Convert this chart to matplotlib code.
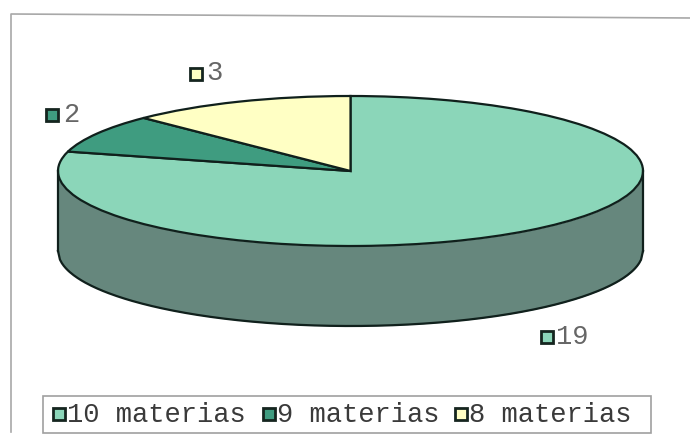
import numpy as np
import matplotlib
matplotlib.use('Agg')
import matplotlib.pyplot as plt
from matplotlib.patches import Rectangle

# Datos del grafico
categorias = ['10 materias', '9 materias', '8 materias']
valores = [19, 2, 3]
colores = ['#8bd6b9', '#3f9c80', '#ffffc4']
color_lado = '#66877d'

W, H = 690, 448
cx, cy, rx, ry = 350.5, 171, 292.5, 75
prof = 80 / ry

fig = plt.figure(figsize=(W / 100, H / 100), dpi=100)

# Capa en pixeles para marco, leyenda y etiquetas
fondo = fig.add_axes([0, 0, 1, 1])
fondo.set_xlim(0, W)
fondo.set_ylim(H, 0)
fondo.axis('off')

# El circulo unidad del pie queda como elipse
ax = fig.add_axes([0, 0, 1, 1])
ax.patch.set_alpha(0)
ax.pie(valores, colors=colores, startangle=90, counterclock=False, radius=1,
       wedgeprops={'edgecolor': '#10201c', 'linewidth': 1.6})
ax.set_aspect('auto')
ax.set_xlim(-cx / rx, (W - cx) / rx)
ax.set_ylim((cy - H) / ry, cy / ry)

# Lado del cilindro
x = np.linspace(-1, 1, 300)
borde = -np.sqrt(1 - x ** 2)
ax.fill_between(x, borde, borde - prof, color=color_lado, lw=0, zorder=0.5)
ax.plot(x, borde - prof, color='#10201c', lw=1.6, zorder=3)
ax.plot([-1, -1], [0, -prof], color='#10201c', lw=1.6, zorder=3)
ax.plot([1, 1], [0, -prof], color='#10201c', lw=1.6, zorder=3)

# Marco exterior
fondo.plot([11, 11, 690], [432, 14, 18], color='#a8a8a8', lw=1.2)
fondo.add_patch(Rectangle((43, 396), 608, 37, fc='white', ec='#a0a0a0', lw=1.2))


def cuadro(x0, y0, color, lado=12):
    fondo.add_patch(Rectangle((x0, y0), lado, lado, fc=color, ec='#15251f', lw=2))


# Leyenda
for nombre, color, xc, xt in zip(categorias, colores, [53, 263, 455], [67, 277, 469]):
    cuadro(xc, 408, color)
    fondo.text(xt, 414.5, nombre, family='Liberation Mono', fontsize=19.5,
               color='#3a3a3a', va='center', ha='left')

# Etiquetas de datos
etiquetas = [(str(valores[0]), 541, 331, 556), (str(valores[1]), 46, 109, 63),
             (str(valores[2]), 190, 68, 206)]
for i, (txt, xc, yc, xt) in enumerate(etiquetas):
    cuadro(xc, yc, colores[i])
    fondo.text(xt, yc + 5.5, txt, family='Liberation Mono', fontsize=19.5,
               color='#666666', va='center', ha='left')

fig.savefig('out.png', dpi=100)
